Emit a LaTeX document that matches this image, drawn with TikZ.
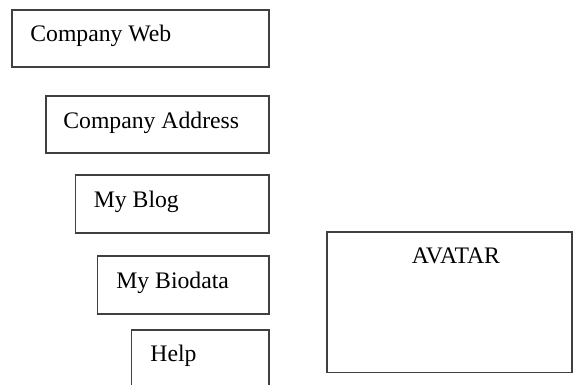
\documentclass[tikz,border=0pt]{standalone}
\usepackage{fontspec}
\setmainfont{Liberation Serif}
\begin{document}
\begin{tikzpicture}[x=0.5pt,y=-0.5pt,
    frame/.style={draw=black!75,line width=0.6pt},
    lbl/.style={anchor=base west,inner sep=0pt,font=\fontsize{11.85}{14}\selectfont}]
    \useasboundingbox (0,0) rectangle (573,385);
    \clip (0,0) rectangle (573,385);
    % Boxes
    \draw[frame] (12,10) rectangle (269,67);
    \draw[frame] (46,96) rectangle (269,153);
    \draw[frame] (75.5,175) rectangle (269,233);
    \draw[frame] (97.5,256) rectangle (269,314);
    \draw[frame] (131.5,330) rectangle (269,390);
    \draw[frame] (327,232) rectangle (572,372.5);
    % Labels
    \node[lbl] (web) at (30,42) {Company Web};
    \node[lbl] (address) at (63,128.5) {Company Address};
    \node[lbl] (blog) at (93.5,207) {My Blog};
    \node[lbl] (biodata) at (116,288) {My Biodata};
    \node[lbl] (help) at (150,361) {Help};
    \node[lbl] (avatar) at (411.5,263.5) {AVATAR};
\end{tikzpicture}
\end{document}
